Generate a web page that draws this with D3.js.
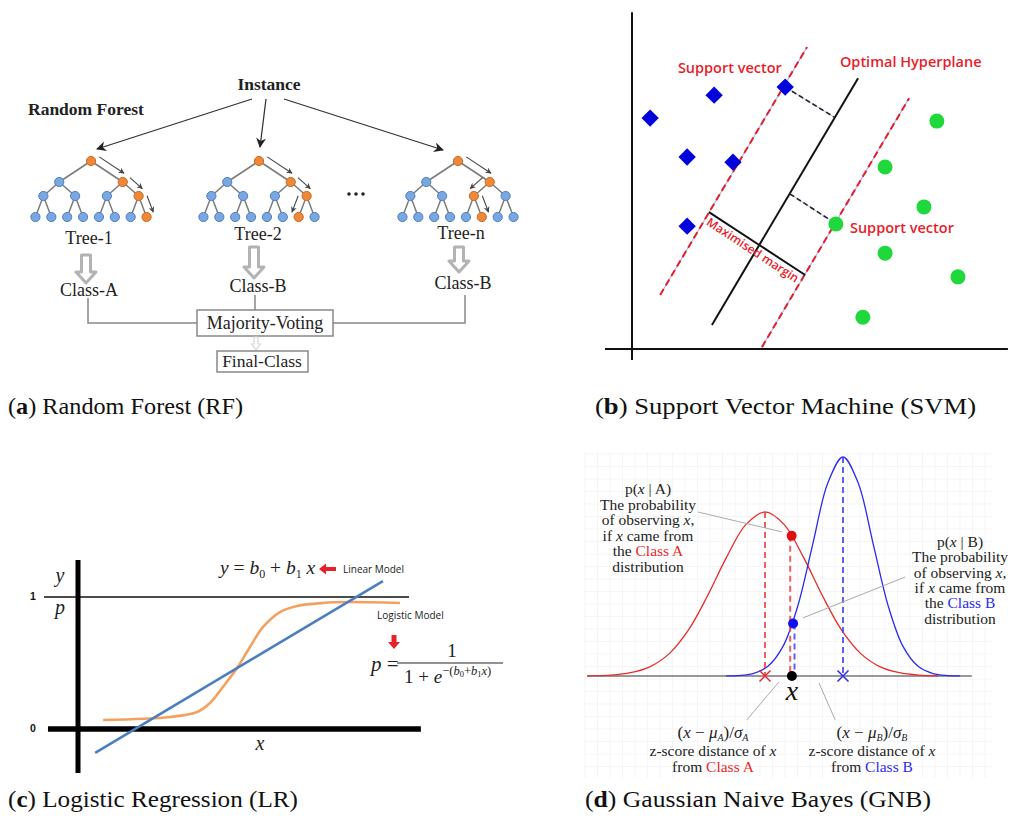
<!DOCTYPE html>
<html><head><meta charset="utf-8">
<script src="https://cdn.jsdelivr.net/npm/d3@7"></script>
<style>body{margin:0;background:#fff} svg{display:block}</style>
</head><body>
<svg id="fig" width="1020" height="820"></svg>
<script>
// ================= DATA =================
// (a) Random Forest
const treeNames   = ["Tree-1", "Tree-2", "Tree-n"];
const treeClasses = ["Class-A", "Class-B", "Class-B"];
const treePaths   = [[1,1,1], [1,1,0], [1,0,1]];   // decision path: 0 = left child, 1 = right child
// (b) Support Vector Machine (axis units)
const svmClassA = [[0.49,6.24],[2.22,6.86],[4.14,7.08],[1.49,5.19],[2.73,5.05],[1.49,3.32]];
const svmClassB = [[8.24,6.16],[6.84,4.92],[7.89,3.84],[5.51,3.38],[6.84,2.59],[8.81,1.95],[6.24,0.86]];
const svmHyperplane = [[2.16,0.65],[6.11,7.32]];
const svmMarginA    = [[0.76,1.46],[4.73,8.16]];
const svmMarginB    = [[3.51,0.05],[7.49,6.78]];
const svmLinks      = [[[4.14,7.08],[5.46,6.27]], [[4.27,4.19],[5.35,3.49]]];
const svmMarginSpan = [[2.08,3.70],[4.68,2.00]];
// (c) Logistic Regression (x units, probability)
const lrLinear   = [[0.52,-0.18],[9.24,1.12]];
const lrLogistic = [[0.76,0.068],[2.79,0.091],[3.61,0.129],[4.0,0.197],[4.39,0.318],[4.82,0.462],
                    [5.21,0.621],[5.61,0.773],[6.12,0.886],[6.64,0.932],[7.42,0.955],[8.24,0.962],[9.76,0.955]];
// (d) Gaussian Naive Bayes (x in units of sigma_A from mu_A, relative density)
const gnbClassA = [[-3.7,0.001],[-3.2,0.004],[-2.8,0.015],[-2.4,0.042],[-2.0,0.101],[-1.6,0.208],[-1.2,0.365],
                   [-0.8,0.543],[-0.4,0.691],[0,0.749],[0.4,0.691],[0.8,0.543],[1.2,0.365],[1.6,0.208],
                   [2.0,0.101],[2.4,0.042],[2.8,0.015],[3.2,0.004],[3.6,0.001]];
const gnbClassB = [[-0.81,0.0005],[-0.56,0.002],[-0.25,0.011],[0.06,0.044],[0.375,0.135],[0.69,0.325],[1.0,0.607],
                   [1.31,0.882],[1.625,1.0],[1.94,0.882],[2.25,0.607],[2.56,0.325],[2.875,0.135],[3.19,0.044],
                   [3.5,0.011],[3.81,0.002],[4.06,0.0005]];
const gnbMeans = [[0, 0.749], [1.625, 1.0]];
const gnbObsX = 0.56;
const gnbObsA = [0.555, 0.64];
const gnbObsB = [0.585, 0.24];
// captions
const captionLetters = ["a", "b", "c", "d"];
const captionTexts = ["Random Forest (RF)", "Support Vector Machine (SVM)", "Logistic Regression (LR)", "Gaussian Naive Bayes (GNB)"];

// ================= DRAW =================
const svg = d3.select("#fig");
svg.append("rect").attr("width",1020).attr("height",820).attr("fill","#fff");
const defs = svg.append("defs");
function marker(id, w, h, color){
  defs.append("marker").attr("id",id).attr("viewBox","0 0 10 10").attr("refX",9).attr("refY",5)
    .attr("markerWidth",w).attr("markerHeight",h).attr("markerUnits","userSpaceOnUse").attr("orient","auto")
    .append("path").attr("d","M0,0 L10,5 L0,10 L3,5 Z").attr("fill",color);
}
marker("ahBig", 13, 10, "#222");
marker("ahSmall", 7, 6, "#444");

const SERIF = "'Liberation Serif','Times New Roman',serif";
const SANS = "'Open Sans','Liberation Sans',sans-serif";

// ---------- (a) Random Forest ----------
const gA = svg.append("g");
gA.append("text").text("Instance").attr("x",269).attr("y",90).attr("text-anchor","middle")
  .attr("font-family",SERIF).attr("font-weight","bold").attr("font-size",17.5).attr("fill","#222");
gA.append("text").text("Random Forest").attr("x",28).attr("y",115)
  .attr("font-family",SERIF).attr("font-weight","bold").attr("font-size",17.5).attr("fill","#222");
const treeRootX = [91, 259, 458];
const treeLevelY = [161, 182, 196, 217];
const instArrows = [[252,99,97,149],[266,99,260,147],[284,99,443,150]];
gA.selectAll(".ia").data(instArrows).join("line")
  .attr("x1",d=>d[0]).attr("y1",d=>d[1]).attr("x2",d=>d[2]).attr("y2",d=>d[3])
  .attr("stroke","#333").attr("stroke-width",1.3).attr("marker-end","url(#ahBig)");

function buildTree(depth){ return depth < 3 ? {children:[buildTree(depth+1), buildTree(depth+1)]} : {}; }
const treeWidth = 127;
treeRootX.forEach((rx, ti) => {
  const root = d3.hierarchy(buildTree(0));
  d3.tree().size([treeWidth, 3]).separation(() => 1)(root);
  const px = n => rx - treeWidth/2 + n.x;
  const py = n => treeLevelY[n.depth];
  const path = [root]; let cur = root;
  treePaths[ti].forEach(c => { cur = cur.children[c]; path.push(cur); });
  const onPath = new Set(path);
  const g = gA.append("g");
  g.selectAll("line").data(root.links()).join("line")
    .attr("x1",l=>px(l.source)).attr("y1",l=>py(l.source)).attr("x2",l=>px(l.target)).attr("y2",l=>py(l.target))
    .attr("stroke","#7a7a7a").attr("stroke-width",1.5);
  g.selectAll("circle").data(root.descendants()).join("circle")
    .attr("cx",px).attr("cy",py).attr("r",4.6)
    .attr("fill",n=>onPath.has(n) ? "#f0883a" : "#79a8e0")
    .attr("stroke",n=>onPath.has(n) ? "#c96a25" : "#4f7fc0").attr("stroke-width",1);
  for (let i = 0; i < path.length - 1; i++){
    const x1 = px(path[i]), y1 = py(path[i]), x2 = px(path[i+1]), y2 = py(path[i+1]);
    const len = Math.hypot(x2-x1, y2-y1), dx = (x2-x1)/len, dy = (y2-y1)/len;
    const nx = dx > 0 ? dy : -dy, ny = dx > 0 ? -dx : dx;
    const off = 8, t0 = 0.12*len, t1 = 0.1*len;
    g.append("line")
      .attr("x1", x1 + nx*off + dx*t0).attr("y1", y1 + ny*off + dy*t0)
      .attr("x2", x2 + nx*off - dx*t1).attr("y2", y2 + ny*off - dy*t1)
      .attr("stroke","#444").attr("stroke-width",1.1).attr("marker-end","url(#ahSmall)");
  }
});
gA.selectAll(".dots").data([349,356,363]).join("circle")
  .attr("cx",d=>d).attr("cy",194).attr("r",1.8).attr("fill","#222");

const treeLabelY = [244, 240, 239];
const treeLabelX = [89, 258, 461];
gA.selectAll(".tl").data(treeNames).join("text").text(d=>d)
  .attr("x",(d,i)=>treeLabelX[i]).attr("y",(d,i)=>treeLabelY[i]).attr("text-anchor","middle")
  .attr("font-family",SERIF).attr("font-size",18).attr("fill","#222");
// hollow block arrows
const blockArrows = [[86,255,283],[254,247,278],[459,247,272]];
function blockArrow(cx, top, bot, sw, hw, hh){
  const hb = bot - hh;
  return `M${cx-sw},${top} L${cx+sw},${top} L${cx+sw},${hb} L${cx+hw},${hb} L${cx},${bot} L${cx-hw},${hb} L${cx-sw},${hb} Z`;
}
gA.selectAll(".ba").data(blockArrows).join("path")
  .attr("d",d=>blockArrow(d[0],d[1],d[2],4.5,10,11))
  .attr("fill","#fff").attr("stroke","#b3b3b3").attr("stroke-width",3).attr("stroke-linejoin","round");
const classLabelX = [89, 258, 463];
const classLabelY = [296, 292, 289];
gA.selectAll(".cl").data(treeClasses).join("text").text(d=>d)
  .attr("x",(d,i)=>classLabelX[i]).attr("y",(d,i)=>classLabelY[i]).attr("text-anchor","middle")
  .attr("font-family",SERIF).attr("font-size",18).attr("fill","#222");
// connectors
const conn = "M88,298 L88,323 L197,323 M255,295 L255,310 M465,295 L465,323 L333,323";
gA.append("path").attr("d",conn).attr("fill","none").attr("stroke","#888").attr("stroke-width",1.5);
gA.append("rect").attr("x",197).attr("y",310).attr("width",136).attr("height",26)
  .attr("fill","#fff").attr("stroke","#888").attr("stroke-width",1.5);
gA.append("text").text("Majority-Voting").attr("x",265).attr("y",329).attr("text-anchor","middle")
  .attr("font-family",SERIF).attr("font-size",18).attr("fill","#222");
gA.append("path").attr("d",blockArrow(256,337,350,2,4.5,6))
  .attr("fill","#fff").attr("stroke","#d8d8d8").attr("stroke-width",1.2);
gA.append("rect").attr("x",217).attr("y",351).attr("width",91).attr("height",21)
  .attr("fill","#fff").attr("stroke","#888").attr("stroke-width",1.5);
gA.append("text").text("Final-Class").attr("x",262).attr("y",367).attr("text-anchor","middle")
  .attr("font-family",SERIF).attr("font-size",17.5).attr("fill","#222");

// ---------- (b) SVM ----------
const gB = svg.append("g");
const sxB = d3.scaleLinear([0,10],[632,1002]);
const syB = d3.scaleLinear([0,9],[349,16]);
const RED = "#e61e2b";
const lineB = d3.line().x(d=>sxB(d[0])).y(d=>syB(d[1]));
gB.append("path").attr("d",lineB([[0,9.1],[0,-0.3]])).attr("stroke","#111").attr("stroke-width",2);
gB.append("path").attr("d",lineB([[-0.73,0],[10.16,0]])).attr("stroke","#111").attr("stroke-width",2);
[svmMarginA, svmMarginB].forEach(m => {
  gB.append("path").attr("d",lineB(m)).attr("stroke","#a9b9ec").attr("stroke-width",1.2);
  gB.append("path").attr("d",lineB(m)).attr("stroke",RED).attr("stroke-width",2).attr("stroke-dasharray","7,4");
});
gB.append("path").attr("d",lineB(svmHyperplane)).attr("stroke","#111").attr("stroke-width",2);
svmLinks.forEach(l => {
  gB.append("path").attr("d",lineB(l)).attr("stroke","#b0c0ee").attr("stroke-width",1);
  gB.append("path").attr("d",lineB(l)).attr("stroke","#222").attr("stroke-width",1.6).attr("stroke-dasharray","5,3");
});
gB.append("path").attr("d",lineB(svmMarginSpan)).attr("stroke","#111").attr("stroke-width",2);
gB.selectAll(".dia").data(svmClassA).join("path")
  .attr("d",d3.symbol(d3.symbolSquare, 150)())
  .attr("transform",d=>`translate(${sxB(d[0])},${syB(d[1])}) rotate(45)`).attr("fill","#0000dd");
gB.selectAll(".grn").data(svmClassB).join("circle")
  .attr("cx",d=>sxB(d[0])).attr("cy",d=>syB(d[1])).attr("r",7.5).attr("fill","#1ed83c");
const svmLabels = [["Support vector",1.24,7.46],["Optimal Hyperplane",5.62,7.62],["Support vector",5.89,3.14]];
gB.selectAll(".sl").data(svmLabels).join("text").text(d=>d[0])
  .attr("x",d=>sxB(d[1])).attr("y",d=>syB(d[2]))
  .attr("font-family",SANS).attr("font-weight",600).attr("font-size",14.5).attr("fill",RED);
{
  const p0 = svmMarginSpan[0], p1 = svmMarginSpan[1];
  const x0 = sxB(p0[0]), y0 = syB(p0[1]), x1 = sxB(p1[0]), y1 = syB(p1[1]);
  const ang = Math.atan2(y1-y0, x1-x0) * 180/Math.PI;
  const cx = (x0+x1)/2, cy = (y0+y1)/2;
  const len = Math.hypot(x1-x0,y1-y0);
  const nx = -(y1-y0)/len, ny = (x1-x0)/len;
  gB.append("text").text("Maximised margin")
    .attr("transform",`translate(${cx+nx*12},${cy+ny*12}) rotate(${ang})`).attr("text-anchor","middle")
    .attr("font-family",SANS).attr("font-weight",600).attr("font-size",12).attr("fill",RED);
}

// ---------- (c) Logistic Regression ----------
const gC = svg.append("g");
const sxC = d3.scaleLinear([0,10],[78,408]);
const syC = d3.scaleLinear([0,1],[729,597]);
const lineC = d3.line().x(d=>sxC(d[0])).y(d=>syC(d[1]));
gC.append("path").attr("d",lineC([[-1.03,1],[10.03,1]])).attr("stroke","#111").attr("stroke-width",1.5);
gC.append("path").attr("d",lineC([[0,1.28],[0,-0.333]])).attr("stroke","#000").attr("stroke-width",5);
gC.append("path").attr("d",lineC([[-0.91,0],[10.39,0]])).attr("stroke","#000").attr("stroke-width",5.5);
gC.append("path").attr("d",d3.line().x(d=>sxC(d[0])).y(d=>syC(d[1])).curve(d3.curveCatmullRom)(lrLogistic)).attr("fill","none")
  .attr("stroke","#f4a160").attr("stroke-width",2.6);
gC.append("path").attr("d",lineC(lrLinear)).attr("fill","none")
  .attr("stroke","#4a7ebf").attr("stroke-width",2.6);
gC.selectAll(".yl").data([1,0]).join("text").text(d=>d)
  .attr("x",30).attr("y",d=>syC(d)+3).attr("font-family","'Liberation Sans',sans-serif")
  .attr("font-weight","bold").attr("font-size",10.5).attr("fill","#111");
gC.append("text").text("y").attr("x",60).attr("y",582).attr("text-anchor","middle")
  .attr("font-family",SERIF).attr("font-style","italic").attr("font-size",20).attr("fill","#222");
gC.append("text").text("p").attr("x",60).attr("y",614).attr("text-anchor","middle")
  .attr("font-family",SERIF).attr("font-style","italic").attr("font-size",20).attr("fill","#222");
gC.append("text").text("x").attr("x",260).attr("y",750).attr("text-anchor","middle")
  .attr("font-family",SERIF).attr("font-style","italic").attr("font-size",20).attr("fill","#222");
// linear model equation
{
  const t = gC.append("text").attr("x",220).attr("y",574).attr("font-family",SERIF).attr("font-size",19.5).attr("fill","#222");
  t.append("tspan").attr("font-style","italic").text("y");
  t.append("tspan").text(" = ");
  t.append("tspan").attr("font-style","italic").text("b");
  t.append("tspan").attr("font-size",12).attr("dy",4).text("0");
  t.append("tspan").attr("dy",-4).text(" + ");
  t.append("tspan").attr("font-style","italic").text("b");
  t.append("tspan").attr("font-size",12).attr("dy",4).text("1");
  t.append("tspan").attr("dy",-4).attr("font-style","italic").text(" x");
}
gC.append("path").attr("d","M319,569 L326,563.5 L326,567 L336,567 L336,571 L326,571 L326,574.5 Z").attr("fill","#e8202a");
gC.append("text").text("Linear Model").attr("x",343).attr("y",573).attr("font-family",SANS)
  .attr("font-size",10).attr("fill","#222");
gC.append("text").text("Logistic Model").attr("x",377).attr("y",619).attr("font-family",SANS)
  .attr("font-size",10).attr("fill","#222");
gC.append("path").attr("d","M391.5,635 L396.5,635 L396.5,642 L400,642 L394,649 L388,642 L391.5,642 Z").attr("fill","#e8202a");
// logistic equation
gC.append("text").attr("x",371).attr("y",671).attr("font-family",SERIF).attr("font-size",21).attr("fill","#222")
  .call(t => { t.append("tspan").attr("font-style","italic").text("p"); t.append("tspan").text(" ="); });
gC.append("text").text("1").attr("x",452).attr("y",657).attr("text-anchor","middle")
  .attr("font-family",SERIF).attr("font-size",19).attr("fill","#222");
gC.append("line").attr("x1",397).attr("x2",503).attr("y1",663).attr("y2",663).attr("stroke","#222").attr("stroke-width",1.1);
{
  const t = gC.append("text").attr("x",404).attr("y",683).attr("font-family",SERIF).attr("font-size",19).attr("fill","#222");
  t.append("tspan").text("1 + ");
  t.append("tspan").attr("font-style","italic").text("e");
  const s = 12.5;
  t.append("tspan").attr("font-size",s).attr("dy",-8).text("−(");
  t.append("tspan").attr("font-size",s).attr("font-style","italic").text("b");
  t.append("tspan").attr("font-size",8.5).attr("dy",2).text("0");
  t.append("tspan").attr("font-size",s).attr("dy",-2).text("+");
  t.append("tspan").attr("font-size",s).attr("font-style","italic").text("b");
  t.append("tspan").attr("font-size",8.5).attr("dy",2).text("1");
  t.append("tspan").attr("font-size",s).attr("dy",-2).attr("font-style","italic").text("x");
  t.append("tspan").attr("font-size",s).text(")");
}

// ---------- (d) Gaussian Naive Bayes ----------
const gD = svg.append("g");
const sxD = d3.scaleLinear([0,1],[765,813]);
const syD = d3.scaleLinear([0,1],[676,457]);
// faint grid
gD.selectAll(".gv").data(d3.range(585, 992, 12.5)).join("line")
  .attr("x1",d=>d).attr("x2",d=>d).attr("y1",452).attr("y2",778).attr("stroke","#f5f5f5").attr("stroke-width",1);
gD.selectAll(".gh").data(d3.range(454, 779, 12.5)).join("line")
  .attr("y1",d=>d).attr("y2",d=>d).attr("x1",583).attr("x2",992).attr("stroke","#f5f5f5").attr("stroke-width",1);
const lineD = d3.line().x(d=>sxD(d[0])).y(d=>syD(d[1])).curve(d3.curveCatmullRom);
const DRED = "#e82a2a", DBLUE = "#2b2bef";
gD.append("path").attr("d",d3.line().x(d=>sxD(d[0])).y(d=>syD(d[1]))([[-3.71,0],[4.31,0]]))
  .attr("stroke","#333").attr("stroke-width",1.1);
gD.append("path").attr("d",lineD(gnbClassA)).attr("fill","none").attr("stroke",DRED).attr("stroke-width",1.3);
gD.append("path").attr("d",lineD(gnbClassB)).attr("fill","none").attr("stroke",DBLUE).attr("stroke-width",1.3);
const vdash = (x, y, c) => gD.append("line").attr("x1",sxD(x)).attr("x2",sxD(x)).attr("y1",syD(y)).attr("y2",syD(0))
  .attr("stroke",c).attr("stroke-width",2).attr("stroke-dasharray","6,4").attr("opacity",0.85);
vdash(gnbMeans[0][0], gnbMeans[0][1], "#ee4444");
vdash(gnbMeans[1][0], gnbMeans[1][1], "#4444f4");
vdash(gnbObsA[0]-0.03, gnbObsA[1], "#ee4444");
vdash(gnbObsB[0]+0.03, gnbObsB[1], "#4444f4");
// leader lines
const leaders = [[[-1.40,0.749],[0.354,0.658]], [[0.79,0.265],[2.92,0.452]], [[0.29,-0.027],[-0.375,-0.2]], [[1.125,-0.032],[1.46,-0.2]]];
gD.selectAll(".ld").data(leaders).join("path").attr("d",d=>d3.line().x(p=>sxD(p[0])).y(p=>syD(p[1]))(d))
  .attr("stroke","#aaa").attr("stroke-width",1);
// crosses at means
const cross = (x, c) => {
  const cx = sxD(x), cy = syD(0), s = 5.5;
  gD.append("path").attr("d",`M${cx-s},${cy-s} L${cx+s},${cy+s} M${cx-s},${cy+s} L${cx+s},${cy-s}`)
    .attr("stroke",c).attr("stroke-width",1.5);
};
cross(gnbMeans[0][0], DRED);
cross(gnbMeans[1][0], DBLUE);
gD.append("circle").attr("cx",sxD(gnbObsA[0])).attr("cy",syD(gnbObsA[1])).attr("r",5).attr("fill","#e01010");
gD.append("circle").attr("cx",sxD(gnbObsB[0])).attr("cy",syD(gnbObsB[1])).attr("r",5).attr("fill","#1010ee");
gD.append("circle").attr("cx",sxD(gnbObsX)).attr("cy",syD(0)).attr("r",5).attr("fill","#000");
gD.append("text").text("x").attr("x",sxD(gnbObsX)).attr("y",700).attr("text-anchor","middle")
  .attr("font-family",SERIF).attr("font-style","italic").attr("font-size",28).attr("fill","#111");

const FS = 15.5;
function block(lines, cx, y0, dy){
  lines.forEach((ln, i) => {
    const t = gD.append("text").attr("x",cx).attr("y",y0 + i*dy).attr("text-anchor","middle")
      .attr("font-family",SERIF).attr("font-size",FS).attr("fill","#222");
    ln.forEach(seg => {
      const s = t.append("tspan").text(seg[0]);
      if (seg[1]) s.attr("font-style","italic");
      if (seg[2]) s.attr("fill",seg[2]);
    });
  });
}
block([[["p("],["x",1],[" | A)"]], [["The probability"]], [["of observing "],["x",1],[","]],
       [["if "],["x",1],[" came from"]], [["the "],["Class A",0,DRED]], [["distribution"]]], 648, 494, 15.5);
block([[["p("],["x",1],[" | B)"]], [["The probability"]], [["of observing "],["x",1],[","]],
       [["if "],["x",1],[" came from"]], [["the "],["Class B",0,DBLUE]], [["distribution"]]], 960, 547, 15.3);
function zscore(cx, cls, col){
  const t = gD.append("text").attr("x",cx).attr("y",738).attr("text-anchor","middle")
    .attr("font-family",SERIF).attr("font-size",17).attr("fill","#222");
  t.append("tspan").text("(");
  t.append("tspan").attr("font-style","italic").text("x");
  t.append("tspan").text(" − ");
  t.append("tspan").attr("font-style","italic").text("μ");
  t.append("tspan").attr("font-style","italic").attr("font-size",10).attr("dy",3).text(cls);
  t.append("tspan").attr("dy",-3).text(")/");
  t.append("tspan").attr("font-style","italic").text("σ");
  t.append("tspan").attr("font-style","italic").attr("font-size",10).attr("dy",3).text(cls);
  block([[["z-score distance of "],["x",1]], [["from "],["Class "+cls,0,col]]], cx, 756, 15.5);
}
zscore(713, "A", DRED);
zscore(872, "B", DBLUE);

// ---------- captions ----------
const capPos = [[8,414,235],[595,414,381],[8,807,290],[585,807,346]];
captionLetters.forEach((L, i) => {
  const t = svg.append("text").attr("x",capPos[i][0]).attr("y",capPos[i][1])
    .attr("font-family",SERIF).attr("font-size",23).attr("fill","#111")
    .attr("textLength",capPos[i][2]).attr("lengthAdjust","spacingAndGlyphs");
  t.append("tspan").text("(");
  t.append("tspan").attr("font-weight","bold").text(L);
  t.append("tspan").text(") " + captionTexts[i]);
});
</script>
</body></html>
